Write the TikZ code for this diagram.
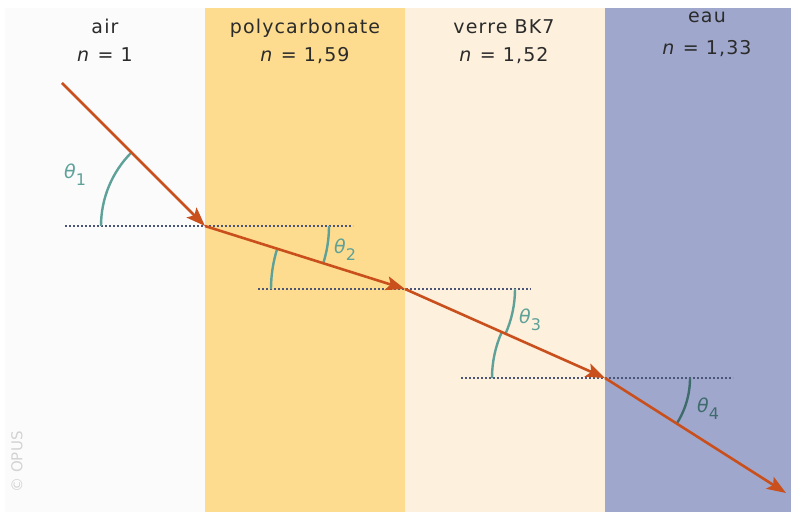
\documentclass[tikz,border=0pt]{standalone}
\usepackage{fontspec}
\setmainfont{DejaVu Sans}
\newfontfamily\hfont[LetterSpace=6]{DejaVu Sans}
\usetikzlibrary{arrows.meta,angles}
\definecolor{airc}{HTML}{FBFBFB}
\definecolor{polyc}{HTML}{FDDC8F}
\definecolor{verc}{HTML}{FDF0DC}
\definecolor{eauc}{HTML}{A0A7CC}
\definecolor{rayc}{HTML}{C9501C}
\definecolor{arcc}{HTML}{5EA198}
\definecolor{arcd}{HTML}{3E6C6C}
\definecolor{dotc}{HTML}{4A5578}
\definecolor{txtc}{HTML}{2B2B2B}
\definecolor{opc}{HTML}{D3D3D3}
\begin{document}
\begin{tikzpicture}[x=1pt,y=1pt,
  ray/.style={draw=rayc, line width=2.6pt, -{Stealth[length=19pt,width=14pt,inset=4pt]}},
  normalline/.style={draw=dotc, line width=2.2pt, dash pattern=on 2pt off 2pt},
  ang/.style={draw=arcc, line width=2.4pt},
  head/.style={font=\hfont\fontsize{19}{21}\selectfont, text=txtc, anchor=base, inner sep=0pt},
  tlab/.style={font=\fontsize{19}{19}\selectfont, text=arcc, anchor=base west, inner sep=0pt}]
\useasboundingbox (0,0) rectangle (791,512);
\fill[white] (0,0) rectangle (791,512);
% bands
\fill[airc] (5,0) rectangle (205,504);
\fill[polyc] (205,0) rectangle (405,504);
\fill[verc] (405,0) rectangle (605,504);
\fill[eauc] (605,0) rectangle (791,504);
% headers
\node[head] (h1) at (105,478.5) {air};
\node[head] (n1) at (105,450) {\textit{n} = 1};
\node[head] (h2) at (305,478.5) {polycarbonate};
\node[head] (n2) at (305,450) {\textit{n} = 1,59};
\node[head] (h3) at (504,478.5) {verre BK7};
\node[head] (n3) at (504,450) {\textit{n} = 1,52};
\node[head] (h4) at (707,489) {eau};
\node[head] (n4) at (707,457) {\textit{n} = 1,33};
% points
\coordinate (A) at (62,429);
\coordinate (B) at (205,286);
\coordinate (C) at (405,223);
\coordinate (D) at (605,134);
\coordinate (E) at (786,19);
\coordinate (L1a) at (65,286);
\coordinate (L1b) at (353,286);
\coordinate (L2a) at (258,223);
\coordinate (L2b) at (531,223);
\coordinate (L3a) at (461,134);
\coordinate (L3b) at (733,134);
% normals (dotted)
\draw[normalline] (L1a) -- (L1b);
\draw[normalline] (L2a) -- (L2b);
\draw[normalline] (L3a) -- (L3b);
% angle arcs
\pic[ang, angle radius=104pt] {angle = A--B--L1a};
\pic[ang, angle radius=124pt] {angle = C--B--L1b};
\pic[ang, angle radius=134pt] {angle = B--C--L2a};
\pic[ang, angle radius=110pt] {angle = D--C--L2b};
\pic[ang, angle radius=113pt] {angle = C--D--L3a};
\pic[ang, draw=arcd, angle radius=85pt] {angle = E--D--L3b};
% rays
\draw[ray] (A) -- (B);
\draw[ray] (B) -- (C);
\draw[ray] (C) -- (D);
\draw[ray] (D) -- (E);
% angle labels
\node[tlab] (t1) at (64,334) {\textit{θ}\raisebox{-7pt}{\fontsize{16}{16}\selectfont 1}};
\node[tlab] (t2) at (334,259) {\textit{θ}\raisebox{-7pt}{\fontsize{16}{16}\selectfont 2}};
\node[tlab] (t3) at (519,189) {\textit{θ}\raisebox{-7pt}{\fontsize{16}{16}\selectfont 3}};
\node[tlab, text=arcd] (t4) at (697,100) {\textit{θ}\raisebox{-7pt}{\fontsize{16}{16}\selectfont 4}};
% watermark
\node[rotate=90, text=opc, font=\fontsize{15}{15}\selectfont, inner sep=0pt] (opus) at (17,50) {© OPUS};
\end{tikzpicture}
\end{document}
